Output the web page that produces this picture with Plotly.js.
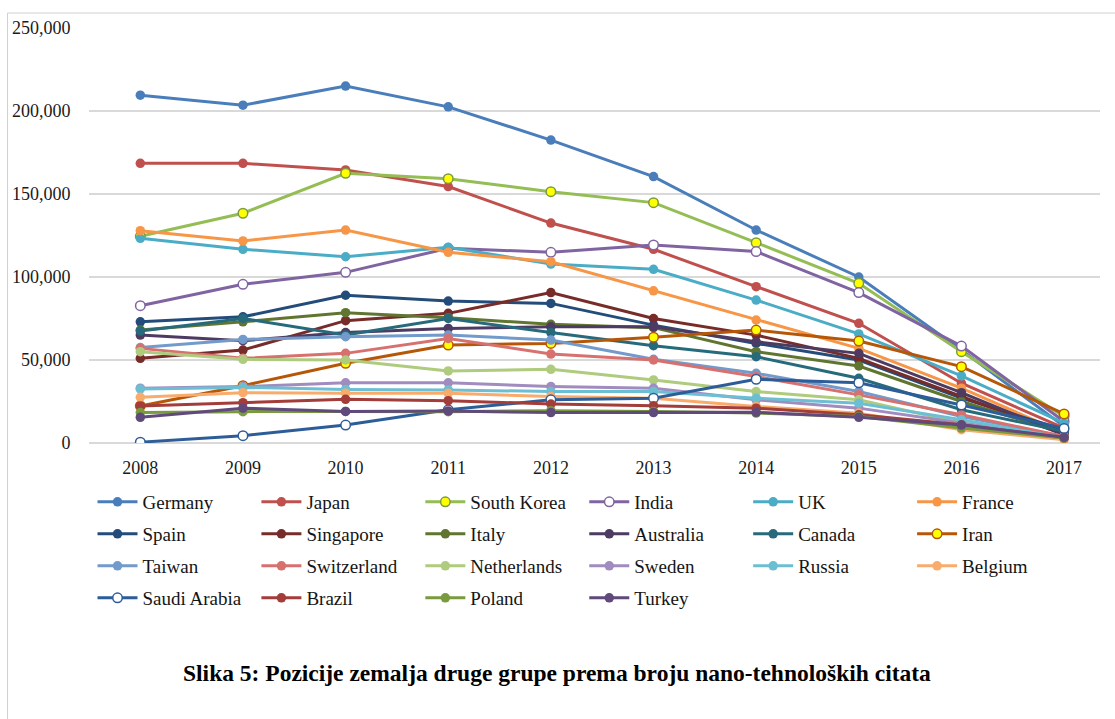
<!DOCTYPE html>
<html>
<head>
<meta charset="utf-8">
<script src="https://cdn.plot.ly/plotly-3.0.1.min.js"></script>
<style>
  html, body { margin: 0; padding: 0; background: #ffffff; }
  #chart { width: 1115px; height: 719px; }
</style>
</head>
<body>
<div id="chart"></div>
<script>
// ---- DATA ----
const years = ["2008","2009","2010","2011","2012","2013","2014","2015","2016","2017"];
const yTicks = [0, 50000, 100000, 150000, 200000, 250000];

const germany     = [209500, 203500, 215000, 202500, 182500, 160500, 128300, 100000, 56000, 10000];
const japan       = [168500, 168500, 164500, 154500, 132500, 116700, 94200, 72100, 36000, 9000];
const southKorea  = [124500, 138400, 162500, 159200, 151400, 144800, 120700, 96200, 55000, 16000];
const india       = [82700, 95600, 102800, 117300, 114900, 119300, 115300, 90600, 58400, 13000];
const uk          = [123300, 116700, 112200, 117900, 107800, 104600, 86100, 65700, 40400, 12000];
const france      = [127900, 121700, 128300, 114900, 109200, 91700, 74100, 57000, 33000, 6000];
const spain       = [73000, 76000, 89000, 85500, 84100, 71000, 60000, 50000, 27000, 8000];
const singapore   = [51000, 56000, 73700, 78100, 90600, 75000, 65000, 51000, 28000, 5000];
const italy       = [68000, 73000, 78500, 75500, 71500, 69500, 55000, 46400, 25000, 6000];
const australia   = [65000, 61600, 66500, 69000, 70000, 70000, 61000, 54000, 30300, 5000];
const canada      = [67500, 75000, 65000, 75000, 66500, 58600, 52000, 39000, 20000, 7000];
const iran        = [22300, 34500, 48000, 59000, 60000, 63700, 68000, 61400, 46000, 17500];
const taiwan      = [57500, 62400, 64000, 65000, 62000, 50400, 42000, 31000, 16000, 4000];
const switzerland = [57000, 51000, 54000, 63000, 53600, 50000, 40000, 29000, 17000, 4000];
const netherlands = [55000, 50400, 50000, 43400, 44400, 38000, 31000, 26000, 12000, 3000];
const sweden      = [33000, 34000, 36300, 36300, 34000, 33000, 26000, 21000, 12000, 3000];
const russia      = [32600, 33500, 32300, 32000, 31000, 31000, 27000, 24000, 14000, 3000];
const belgium     = [27500, 30300, 30000, 29900, 28000, 27000, 22000, 18000, 8000, 2000];
const saudiArabia = [500, 4400, 10800, 20000, 26000, 27000, 38400, 36300, 22900, 8800];
const brazil      = [22300, 24300, 26300, 25500, 23500, 22500, 21000, 17000, 11000, 3000];
const poland      = [18300, 18900, 19000, 18900, 19500, 19000, 18000, 16000, 9000, 3000];
const turkey      = [15500, 21000, 19000, 19300, 18300, 18300, 18500, 15500, 10800, 3400];

// ---- SERIES (name, values) ----
const series = [
  ["Germany", germany], ["Japan", japan], ["South Korea", southKorea], ["India", india], ["UK", uk], ["France", france],
  ["Spain", spain], ["Singapore", singapore], ["Italy", italy], ["Australia", australia], ["Canada", canada], ["Iran", iran],
  ["Taiwan", taiwan], ["Switzerland", switzerland], ["Netherlands", netherlands], ["Sweden", sweden], ["Russia", russia], ["Belgium", belgium],
  ["Saudi Arabia", saudiArabia], ["Brazil", brazil], ["Poland", poland], ["Turkey", turkey]
];

// ---- STYLES ----
const lineColors = {
  "Germany": "#4A7EBB", "Japan": "#C0504D", "South Korea": "#94BD54", "India": "#8064A2", "UK": "#4BACC6", "France": "#F79646",
  "Spain": "#244C7A", "Singapore": "#772C2A", "Italy": "#5F7530", "Australia": "#4D3B62", "Canada": "#276A7C", "Iran": "#B65708",
  "Taiwan": "#729ACA", "Switzerland": "#D7716F", "Netherlands": "#AFCB7D", "Sweden": "#A08CBE", "Russia": "#6CBFD3", "Belgium": "#F9AB6B",
  "Saudi Arabia": "#2C5D98", "Brazil": "#A33D3A", "Poland": "#7A9A3E", "Turkey": "#604A7B"
};
const markerFill = { "India": "#FFFFFF", "Saudi Arabia": "#FFFFFF", "South Korea": "#FFFF00", "Iran": "#FFFF00" };
const markerLine = { "South Korea": "#7A9A3E", "Iran": "#B65708" };

const fontFam = "'Liberation Serif', 'Times New Roman', serif";
const legendId = i => (i === 0 ? "legend" : "legend" + (i + 1));

const traces = series.map(([name, vals], i) => {
  const c = lineColors[name];
  return {
    type: "scatter", mode: "lines+markers", name: name,
    x: years, y: vals,
    line: { color: c, width: 3 },
    marker: { size: 9.5, color: markerFill[name] || c, line: { color: markerLine[name] || c, width: markerFill[name] ? 1.5 : 0 } },
    legend: legendId(i),
    hoverinfo: "x+y+name"
  };
});

// geometry helpers (paper coordinates)
const L = 88.5, R = 1100, T = 28, B = 443;
const W = R - L, H = B - T;
const px = x => (x - L) / W;
const py = y => (B - y) / H;

// legend grid: 6 columns, rows in reading order
const colTextX = 142, colStep = 164;
const rowY = [502, 534, 566, 598];
const legendCfg = {};
series.forEach((s, i) => {
  const col = i % 6, row = Math.floor(i / 6);
  legendCfg[legendId(i)] = {
    orientation: "v", itemwidth: 40,
    x: px(colTextX + colStep * col - 50), xanchor: "left",
    y: py(rowY[row]), yanchor: "middle",
    font: { family: fontFam, size: 19, color: "#141414" },
    bgcolor: "rgba(0,0,0,0)", borderwidth: 0
  };
});

const layout = Object.assign({
  width: 1115, height: 719,
  margin: { l: L, r: 1115 - R, t: T, b: 719 - B, pad: 0 },
  paper_bgcolor: "#ffffff", plot_bgcolor: "#ffffff",
  showlegend: true,
  xaxis: {
    type: "category", range: [-0.5, 9.35],
    showgrid: false, zeroline: false, showline: false,
    ticks: "outside", ticklen: 8, tickcolor: "rgba(0,0,0,0)",
    tickfont: { family: fontFam, size: 18, color: "#1a1a1a" }
  },
  yaxis: {
    range: [0, 250000], tickvals: yTicks, tickformat: ",d",
    showgrid: true, gridcolor: "#D9D9D9", gridwidth: 1.3,
    zeroline: true, zerolinecolor: "#D9D9D9", zerolinewidth: 1.3, showline: false,
    ticks: "outside", ticklen: 14, tickcolor: "rgba(0,0,0,0)",
    tickfont: { family: fontFam, size: 18, color: "#1a1a1a" }
  },
  annotations: [{
    text: "<b>Slika 5: Pozicije zemalja druge grupe prema broju nano-tehnoloških citata</b>",
    xref: "paper", yref: "paper", x: px(557), y: py(673), xanchor: "center", yanchor: "middle",
    showarrow: false, font: { family: fontFam, size: 23.5, color: "#000000" }
  }],
  shapes: [
    { type: "line", xref: "paper", yref: "paper", x0: px(7), x1: px(7), y0: py(719), y1: py(13), line: { color: "#D0D0D0", width: 1 } },
    { type: "line", xref: "paper", yref: "paper", x0: px(7), x1: px(1115), y0: py(13), y1: py(13), line: { color: "#D0D0D0", width: 1 } }
  ]
}, legendCfg);

Plotly.newPlot("chart", traces, layout, { displayModeBar: false, staticPlot: true });
</script>
</body>
</html>
